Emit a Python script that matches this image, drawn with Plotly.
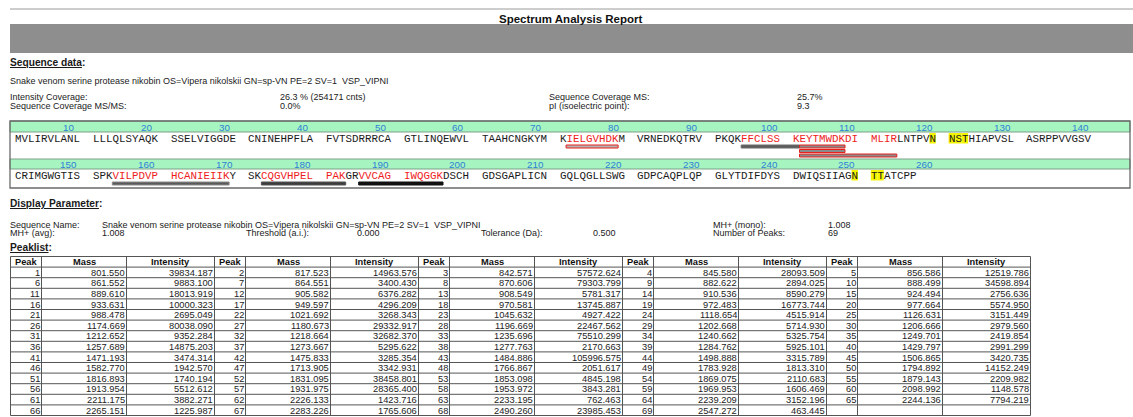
import plotly.graph_objects as go

W, H = 1133, 417

# ---------------- data ----------------
report_title = "Spectrum Analysis Report"
protein_name = "Snake venom serine protease nikobin OS=Vipera nikolskii GN=sp-VN PE=2 SV=1  VSP_VIPNI"

info_left_labels = ["Intensity Coverage:", "Sequence Coverage MS/MS:"]
info_left_values = ["26.3 % (254171 cnts)", "0.0%"]
info_right_labels = ["Sequence Coverage MS:", "pI (isoelectric point):"]
info_right_values = ["25.7%", "9.3"]

sequence = ("MVLIRVLANLLLLQLSYAQKSSELVIGGDECNINEHPFLAFVTSDRRRCAGTLINQEWVLTAAHCNGKYM"
            "KIELGVHDKMVRNEDKQTRVPKQKFFCLSSKEYTMWDKDIMLIRLNTPVNNSTHIAPVSLASRPPVVGSV"
            "CRIMGWGTISSPKVILPDVPHCANIEIIKYSKCQGVHPELPAKGRVVCAGIWQGGKDSCHGDSGAPLICN"
            "GQLQGLLSWGGDPCAQPLQPGLYTDIFDYSDWIQSIIAGNTTATCPP")
position_labels = [10, 20, 30, 40, 50, 60, 70, 80, 90, 100, 110, 120, 130, 140,
                   150, 160, 170, 180, 190, 200, 210, 220, 230, 240, 250, 260]
covered_start = [72, 95, 154, 173, 186]
covered_end = [79, 114, 169, 183, 196]
glyco_sites = [120, 121, 122, 123, 250, 251, 252]

peptide_start = [72, 95, 102, 102, 102, 154, 173, 186]
peptide_end = [79, 101, 108, 108, 114, 169, 183, 196]
peptide_level = [0, 0, 0, 1, 2, 0, 0, 0]
peptide_fill = ["#b4b4b4", "#5c5c5c", "#8a8a8a", "#8a8a8a", "#8a8a8a", "#5a5a5a", "#3c3c3c", "#111111"]
peptide_edge = ["#e8201c", "#6a6a6a", "#e8201c", "#e8201c", "#e8201c", "#8a8a8a", "#555555", "#111111"]

display_name_label = "Sequence Name:"
mh_avg_label, mh_avg_value = "MH+ (avg):", "1.008"
threshold_label, threshold_value = "Threshold (a.i.):", "0.000"
tolerance_label, tolerance_value = "Tolerance (Da):", "0.500"
mh_mono_label, mh_mono_value = "MH+ (mono):", "1.008"
npeaks_label, npeaks_value = "Number of Peaks:", "69"

peak_mass = [801.550, 817.523, 842.571, 845.580, 856.586, 861.552, 864.551, 870.606, 882.622, 888.499,
             889.610, 905.582, 908.549, 910.536, 924.494, 933.631, 949.597, 970.581, 972.483, 977.664,
             988.478, 1021.692, 1045.632, 1118.654, 1126.631, 1174.669, 1180.673, 1196.669, 1202.668, 1206.666,
             1212.652, 1218.664, 1235.696, 1240.662, 1249.701, 1257.689, 1273.667, 1277.763, 1284.762, 1429.797,
             1471.193, 1475.833, 1484.886, 1498.888, 1506.865, 1582.770, 1713.905, 1766.867, 1783.928, 1794.892,
             1816.893, 1831.095, 1853.098, 1869.075, 1879.143, 1913.954, 1931.975, 1953.972, 1969.953, 2098.992,
             2211.175, 2226.133, 2233.195, 2239.209, 2244.136, 2265.151, 2283.226, 2490.260, 2547.272]
peak_intensity = [39834.187, 14963.576, 57572.624, 28093.509, 12519.786, 9883.100, 3400.430, 79303.799, 2894.025, 34598.894,
                  18013.919, 6376.282, 5781.317, 8590.279, 2756.636, 10000.323, 4296.209, 13745.887, 16773.744, 5574.950,
                  2695.049, 3268.343, 4927.422, 4515.914, 3151.449, 80038.090, 29332.917, 22467.562, 5714.930, 2979.560,
                  9352.284, 32682.370, 75510.299, 5325.754, 2419.854, 14875.203, 5295.622, 2170.663, 5925.101, 2991.299,
                  3474.314, 3285.354, 105996.575, 3315.789, 3420.735, 1942.570, 3342.931, 2051.617, 1813.310, 14152.249,
                  1740.194, 38458.801, 4845.198, 2110.683, 2209.982, 5512.612, 28365.400, 3843.281, 1606.469, 1148.578,
                  3882.271, 1423.716, 762.463, 3152.196, 7794.219, 1225.987, 1765.606, 23985.453, 463.445]
table_headers = ["Peak", "Mass", "Intensity"]

# ---------------- geometry / style ----------------
SANS = "Liberation Sans"
MONO = "Liberation Mono"
TXT = "#1a1a1a"
RED = "#ee1c1c"
FS = 9.0
PER_ROW, GROUP = 140, 10
SEQ_X0, PITCH, CW = 15.0, 77.8, 6.5
BOX_X0, BOX_X1, BOX_Y0, BOX_Y1 = 10, 1130, 121, 188
HDR_Y = [(121, 132), (159, 169)]
TXT_Y = [138.5, 175.5]
BAR_Y0 = [146.5, 183.5]
BAR_DY = 4.5
TABLE_X0, TABLE_TOP, ROW_H = 10.5, 256.5, 10.6
COL_W = [31, 85, 88]


def res_x(i):
    j = (i - 1) % PER_ROW
    return SEQ_X0 + (j // GROUP) * PITCH + (j % GROUP) * CW


def res_row(i):
    return (i - 1) // PER_ROW


def is_covered(i):
    return any(s <= i <= e for s, e in zip(covered_start, covered_end))


fig = go.Figure()
shapes = []
ann = []


def text(x, y, s, size=FS, bold=False, anchor="left", color=TXT, family=SANS):
    if bold:
        s = "<b>" + s + "</b>"
    ann.append(dict(x=x, y=y, xref="x", yref="y", text=s, showarrow=False, xanchor=anchor,
                    yanchor="middle", borderpad=0, borderwidth=0,
                    font=dict(family=family, size=size, color=color)))


# header rule, title, grey band
shapes.append(dict(type="line", x0=10, x1=W, y0=9, y1=9, line=dict(color="#9a9a9a", width=1)))
text(571, 18.5, report_title, size=11.5, bold=True, anchor="center", color="#111")
shapes.append(dict(type="rect", x0=10, x1=W, y0=24, y1=53, fillcolor="#8e8e8e", line=dict(width=0)))

# sequence data block
text(10, 62, '<span style="text-decoration:underline">Sequence data</span>:', size=10.2, bold=True)
text(10, 81, protein_name)
for k in range(2):
    text(10, 97 + 8.5 * k, info_left_labels[k])
    text(280, 97 + 8.5 * k, info_left_values[k])
    text(549, 97 + 8.5 * k, info_right_labels[k])
    text(797, 97 + 8.5 * k, info_right_values[k])

# sequence box
for (y0, y1) in HDR_Y:
    shapes.append(dict(type="rect", x0=BOX_X0, x1=BOX_X1, y0=y0, y1=y1, fillcolor="#a6f4c0",
                       line=dict(color="#7f9f8a", width=1), layer="below"))
shapes.append(dict(type="rect", x0=BOX_X0, x1=BOX_X1, y0=BOX_Y0, y1=BOX_Y1,
                   line=dict(color="#6a6a6a", width=1.3)))

for p in position_labels:
    r = (p - 1) // PER_ROW
    g = ((p - 1) % PER_ROW) // GROUP
    cx = SEQ_X0 + g * PITCH + 8.3 * CW
    text(cx, (HDR_Y[r][0] + HDR_Y[r][1]) / 2 + 0.5, str(p), size=9.8, anchor="center", color="#2f7fd6")

for site in glyco_sites:
    x = res_x(site)
    y = TXT_Y[res_row(site)]
    shapes.append(dict(type="rect", x0=x, x1=x + CW, y0=y - 5.5, y1=y + 5, fillcolor="#f4f400",
                       line=dict(width=0), layer="below"))

# residues, grouped by 10, coloured when covered
for start in range(1, len(sequence) + 1, GROUP):
    end = min(start + GROUP - 1, len(sequence))
    html, cur, buf = "", None, ""
    for i in range(start, end + 1):
        c = RED if is_covered(i) else TXT
        if c != cur and buf:
            html += f'<span style="color:{cur}">{buf}</span>'
            buf = ""
        cur = c
        buf += sequence[i - 1]
    html += f'<span style="color:{cur}">{buf}</span>'
    text(res_x(start), TXT_Y[res_row(start)], html, size=10.83, family=MONO)

# peptide coverage bars (horizontal bars on the pixel axes)
for s, e, lv, fc, ec in zip(peptide_start, peptide_end, peptide_level, peptide_fill, peptide_edge):
    x0 = res_x(s)
    x1 = res_x(e) + CW
    yc = BAR_Y0[res_row(s)] + lv * BAR_DY
    fig.add_trace(go.Bar(orientation="h", y=[yc], x=[x1 - x0], base=[x0], width=3,
                         marker=dict(color=fc, line=dict(color=ec, width=1)),
                         hoverinfo="skip", showlegend=False))

# display parameters
text(10, 203.5, '<span style="text-decoration:underline">Display Parameter</span>:', size=10.2, bold=True)
text(10, 224.5, display_name_label)
text(102, 224.5, protein_name)
text(713, 224.5, mh_mono_label)
text(828, 224.5, mh_mono_value)
text(10, 233, mh_avg_label)
text(102, 233, mh_avg_value)
text(246, 233, threshold_label)
text(357, 233, threshold_value)
text(481, 233, tolerance_label)
text(593, 233, tolerance_value)
text(713, 233, npeaks_label)
text(828, 233, npeaks_value)

# peak list table (5 blocks of Peak / Mass / Intensity)
text(10, 247.5, '<span style="text-decoration:underline">Peaklist</span>:', size=10.2, bold=True)
n_blocks = 5
n_rows = (len(peak_mass) + n_blocks - 1) // n_blocks
col_w = COL_W * n_blocks
col_edges = [TABLE_X0]
for w in col_w:
    col_edges.append(col_edges[-1] + w)
row_edges = [TABLE_TOP + ROW_H * r for r in range(n_rows + 2)]

for x in col_edges:
    shapes.append(dict(type="line", x0=x, x1=x, y0=row_edges[0], y1=row_edges[-1],
                       line=dict(color="#555555", width=1)))
for y in row_edges:
    shapes.append(dict(type="line", x0=col_edges[0], x1=col_edges[-1], y0=y, y1=y,
                       line=dict(color="#555555", width=1)))

for c in range(len(col_w)):
    cx = (col_edges[c] + col_edges[c + 1]) / 2
    text(cx, row_edges[0] + ROW_H / 2 + 0.3, table_headers[c % 3], size=9.3, bold=True, anchor="center", color="#111")

for r in range(n_rows):
    yc = row_edges[r + 1] + ROW_H / 2 + 0.3
    for b in range(n_blocks):
        k = r * n_blocks + b
        if k >= len(peak_mass):
            continue
        vals = [str(k + 1), f"{peak_mass[k]:.3f}", f"{peak_intensity[k]:.3f}"]
        for m in range(3):
            c = b * 3 + m
            text(col_edges[c + 1] - 1.5, yc, vals[m], size=9.3, anchor="right", color="#222")

fig.update_layout(
    width=W, height=H, margin=dict(l=0, r=0, t=0, b=0),
    paper_bgcolor="white", plot_bgcolor="white", barmode="overlay",
    xaxis=dict(range=[0, W], visible=False, fixedrange=True, domain=[0, 1]),
    yaxis=dict(range=[H, 0], visible=False, fixedrange=True, domain=[0, 1]),
    shapes=shapes, annotations=ann, showlegend=False,
)
fig.write_html("out.html", config={"displayModeBar": False},
               post_script="document.body.style.margin='0px';document.body.style.overflow='hidden';")
